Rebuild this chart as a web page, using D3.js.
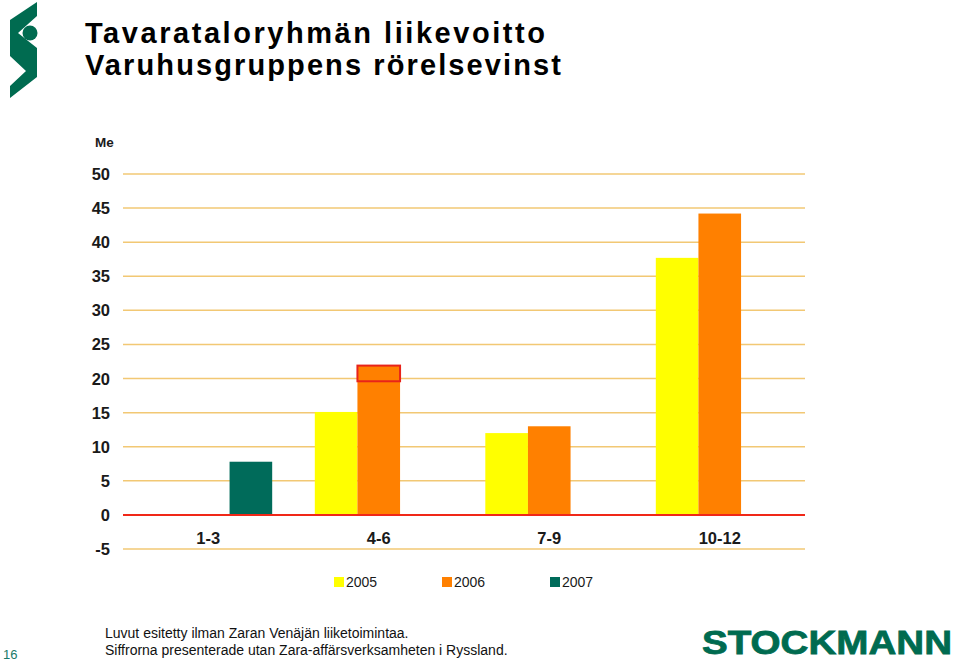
<!DOCTYPE html>
<html><head><meta charset="utf-8">
<script src="https://cdn.jsdelivr.net/npm/d3@7"></script>
<style>
html,body{margin:0;padding:0;background:#fff;}
svg{display:block;font-family:Arial,"Liberation Sans",sans-serif;}
</style></head>
<body>
<svg id="c" width="960" height="662"></svg>
<script>
// ---- data ----
const categories = ["1-3", "4-6", "7-9", "10-12"];
const seriesNames = ["2005", "2006", "2007"];
const values2005 = [null, 15.1, 12.0, 37.7];
const values2006 = [null, 21.9, 13.0, 44.2];
const values2007 = [7.8, null, null, null];
const yTicks = [-5, 0, 5, 10, 15, 20, 25, 30, 35, 40, 45, 50];
const highlightCategory = "4-6";
const highlightSeries = "2006";
const highlightRange = [19.6, 21.9];
const titleLines = ["Tavarataloryhmän liikevoitto", "Varuhusgruppens rörelsevinst"];
const footLines = ["Luvut esitetty ilman Zaran Venäjän liiketoimintaa.", "Siffrorna presenterade utan Zara-affärsverksamheten i Ryssland."];
const unitLabel = "Me";
const pageNumber = "16";

const colors = {"2005": "#FFFF00", "2006": "#FF8000", "2007": "#006B5A"};
const green = "#006B50";

const svg = d3.select("#c");

// logo
svg.append("path")
  .attr("d", "M37,2 L37,16 L18,33 L37,48 L37,77 L10,98 L10,86 L26,71 L10,56 L10,20 Z")
  .attr("fill", green);
svg.append("circle").attr("cx", 30).attr("cy", 33).attr("r", 7.5).attr("fill", green);

// title
const titleLens = [460, 476];
titleLines.forEach((t, i) => {
  svg.append("text").attr("x", 85).attr("y", 43 + i * 32)
    .attr("font-size", 29).attr("font-weight", "bold").attr("fill", "#000")
    .attr("textLength", titleLens[i]).attr("lengthAdjust", "spacing")
    .text(t);
});

// scales
const x0 = d3.scaleBand().domain(categories).range([123, 805]).paddingInner(0.25).paddingOuter(0.125);
const x1 = d3.scaleBand().domain(seriesNames).range([0, x0.bandwidth()]);
const y = d3.scaleLinear().domain([-5, 50]).range([549, 174]);

// gridlines
svg.append("g").selectAll("line").data(yTicks.filter(d => d !== 0)).join("line")
  .attr("x1", 123).attr("x2", 805)
  .attr("y1", d => y(d)).attr("y2", d => y(d))
  .attr("stroke", "#F2C874").attr("stroke-width", 1.5);

// y labels
svg.append("g").selectAll("text").data(yTicks).join("text")
  .attr("x", 110).attr("y", d => y(d) + 6)
  .attr("text-anchor", "end").attr("font-size", 16.5).attr("font-weight", "bold").attr("fill", "#1a1a1a")
  .text(d => d);
svg.append("text").attr("x", 95).attr("y", 147).attr("font-size", 13.5).attr("font-weight", "bold").attr("fill", "#1a1a1a").text(unitLabel);

// bars
const seriesValues = {"2005": values2005, "2006": values2006, "2007": values2007};
const barData = [];
categories.forEach((c, i) => seriesNames.forEach(s => {
  const v = seriesValues[s][i];
  if (v != null) barData.push({c, s, v});
}));
svg.append("g").selectAll("rect").data(barData).join("rect")
  .attr("x", d => x0(d.c) + x1(d.s))
  .attr("width", x1.bandwidth())
  .attr("y", d => y(Math.max(0, d.v)))
  .attr("height", d => Math.abs(y(d.v) - y(0)))
  .attr("fill", d => colors[d.s]);

// highlight box
svg.append("rect")
  .attr("x", x0(highlightCategory) + x1(highlightSeries))
  .attr("width", x1.bandwidth())
  .attr("y", y(highlightRange[1]))
  .attr("height", y(highlightRange[0]) - y(highlightRange[1]))
  .attr("fill", "none").attr("stroke", "#E8231A").attr("stroke-width", 2);

// zero line
svg.append("line").attr("x1", 123).attr("x2", 805).attr("y1", y(0)).attr("y2", y(0))
  .attr("stroke", "#F02818").attr("stroke-width", 2);

// category labels
svg.append("g").selectAll("text").data(categories).join("text")
  .attr("x", d => x0(d) + x0.bandwidth() / 2).attr("y", 544)
  .attr("text-anchor", "middle").attr("font-size", 16.5).attr("font-weight", "bold").attr("fill", "#1a1a1a")
  .text(d => d);

// legend
const legX = d3.scalePoint().domain(seriesNames).range([334, 550]);
const leg = svg.append("g").selectAll("g").data(seriesNames).join("g")
  .attr("transform", d => `translate(${legX(d)},577)`);
leg.append("rect").attr("width", 10).attr("height", 10).attr("fill", d => colors[d]);
leg.append("text").attr("x", 12).attr("y", 10).attr("font-size", 14).attr("fill", "#1a1a1a").text(d => d);

// footer
footLines.forEach((t, i) => {
  svg.append("text").attr("x", 105).attr("y", 638 + i * 17).attr("font-size", 14).attr("fill", "#111").text(t);
});
svg.append("text").attr("x", 3).attr("y", 659).attr("font-size", 13).attr("fill", "#1a7a6a").text(pageNumber);

svg.append("text").attr("x", 702).attr("y", 654).attr("font-size", 34).attr("font-weight", "bold")
  .attr("font-family", "'Liberation Sans',Arial,sans-serif")
  .attr("fill", green).attr("stroke", green).attr("stroke-width", 0.8)
  .attr("textLength", 250).attr("lengthAdjust", "spacingAndGlyphs")
  .text("STOCKMANN");
</script>
</body></html>
